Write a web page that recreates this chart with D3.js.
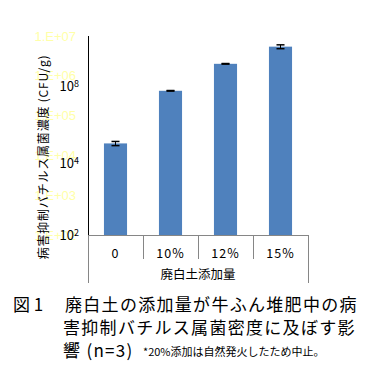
<!DOCTYPE html>
<html>
<head>
<meta charset="utf-8">
<script src="https://cdn.jsdelivr.net/npm/d3@7"></script>
<style>
  body { margin: 0; background: #fff; }
  text { font-family: "Noto Sans CJK JP", "Liberation Sans", sans-serif; }
</style>
</head>
<body>
<svg id="chart" width="379" height="385"></svg>
<script>
const categories = ['0', '10%', '12%', '15%']
const values = [2.0e4, 4.2e5, 2.0e6, 5.4e6]
const errors = [2.4e3, 7e3, 3.5e4, 6e5]
// faint labels left by the spreadsheet, and the hand-set power labels laid over them
const yTicks = [1e2, 1e3, 1e4, 1e5, 1e6, 1e7]
const powerLabels = [{ exp: '8', at: 10 ** 5.74 }, { exp: '4', at: 10 ** 3.82 }, { exp: '2', at: 1e2 }]
const yTitle = '病害抑制バチルス属菌濃度 (CFU/g)'
const xTitle = '廃白土添加量'
const captionLines = ['廃白土の添加量が牛ふん堆肥中の病', '害抑制バチルス属菌密度に及ぼす影', '響 (n=3)']
const note = '*20%添加は自然発火したため中止。'

const svg = d3.select('#chart')
const plotLeft = 88, plotRight = 308, plotTop = 36, plotBottom = 235

const x = d3.scaleBand().domain(categories).range([plotLeft, plotRight]).paddingInner(0.58).paddingOuter(0.29)
const y = d3.scaleLog().domain([1e2, 1e7]).range([plotBottom, plotTop])
const step = x.step()

// bars
svg.append('g').selectAll('rect')
  .data(values)
  .join('rect')
  .attr('x', (d, i) => x(categories[i]))
  .attr('y', d => y(d))
  .attr('width', x.bandwidth())
  .attr('height', d => plotBottom - y(d))
  .attr('fill', '#4f81bd')

// error bars
const err = svg.append('g').attr('stroke', '#000')
values.forEach((v, i) => {
  const cx = x(categories[i]) + x.bandwidth() / 2
  err.append('line').attr('x1', cx).attr('x2', cx)
    .attr('y1', y(v + errors[i])).attr('y2', y(v - errors[i])).attr('stroke-width', 1)
  ;[v + errors[i], v - errors[i]].forEach(e => {
    err.append('line').attr('x1', cx - 4).attr('x2', cx + 4)
      .attr('y1', y(e)).attr('y2', y(e)).attr('stroke-width', 1.5)
  })
})

// y axis
svg.append('line').attr('x1', plotLeft + 0.5).attr('x2', plotLeft + 0.5)
  .attr('y1', plotTop).attr('y2', plotBottom).attr('stroke', '#000')

svg.append('g').selectAll('text')
  .data(yTicks)
  .join('text')
  .attr('x', 76).attr('y', d => y(d))
  .attr('dy', '0.35em')
  .attr('text-anchor', 'end')
  .attr('fill', '#ffffa8')
  .style('font-family', '"Liberation Sans", sans-serif')
  .style('font-size', '13px')
  .text(d => d3.format('.0e')(d).replace('e+', '.E+0'))

const pl = svg.append('g').style('font-family', '"Liberation Sans", sans-serif')
powerLabels.forEach(p => {
  const t = pl.append('text').attr('x', 79).attr('y', y(p.at)).attr('dy', '0.4em')
    .attr('text-anchor', 'end').attr('fill', '#000').style('font-size', '13px')
  t.append('tspan').text('10')
  t.append('tspan').attr('dy', '-0.45em').style('font-size', '9px').text(p.exp)
})

svg.append('text')
  .attr('transform', 'translate(48,157) rotate(-90)')
  .attr('text-anchor', 'middle')
  .style('font-size', '12px')
  .style('letter-spacing', '0.8px')
  .text(yTitle)

// x axis with grouped-category separators
const xa = svg.append('g').attr('stroke', '#868686')
xa.append('line').attr('x1', plotLeft).attr('x2', plotRight).attr('y1', plotBottom + 0.5).attr('y2', plotBottom + 0.5)
d3.range(categories.length + 1).forEach(i => {
  const sx = Math.round(plotLeft + i * step) + 0.5
  const outer = i === 0 || i === categories.length
  xa.append('line').attr('x1', sx).attr('x2', sx)
    .attr('y1', plotBottom).attr('y2', outer ? 283 : 259)
})

svg.append('g').selectAll('text')
  .data(categories)
  .join('text')
  .attr('x', d => x(d) + x.bandwidth() / 2)
  .attr('y', 254)
  .attr('dy', '0.35em')
  .attr('text-anchor', 'middle')
  .style('font-size', '12.5px')
  .style('letter-spacing', '1px')
  .text(d => d)

svg.append('text')
  .attr('x', (plotLeft + plotRight) / 2).attr('y', 275)
  .attr('dy', '0.35em')
  .attr('text-anchor', 'middle')
  .style('font-size', '12.5px')
  .text(xTitle)

// caption
svg.append('text').attr('x', 13).attr('y', 311).style('font-size', '17px').text('図 1')
svg.append('g').selectAll('text')
  .data(captionLines)
  .join('text')
  .attr('x', (d, i) => i === 0 ? 65 : 63)
  .attr('y', (d, i) => 311 + i * 23)
  .style('font-size', '17px')
  .style('letter-spacing', '1.3px')
  .text(d => d)

svg.append('text')
  .attr('x', 143).attr('y', 356)
  .style('font-size', '11px')
  .text(note)
</script>
</body>
</html>
